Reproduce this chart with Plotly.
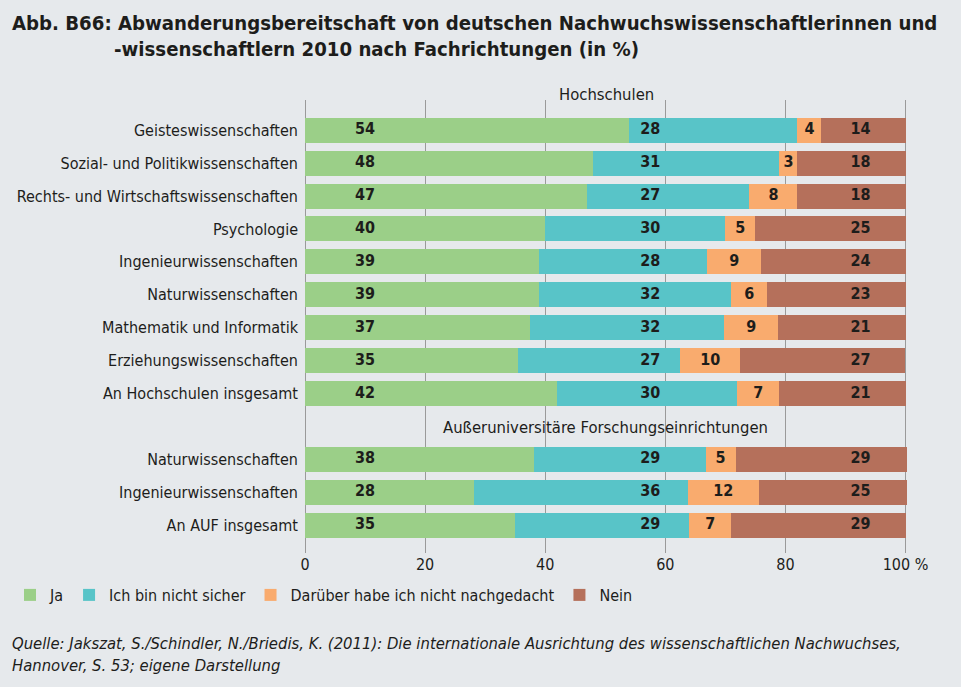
import plotly.graph_objects as go

# ---------------- data ----------------
hs_categories = [
    "Geisteswissenschaften",
    "Sozial- und Politikwissenschaften",
    "Rechts- und Wirtschaftswissenschaften",
    "Psychologie",
    "Ingenieurwissenschaften",
    "Naturwissenschaften",
    "Mathematik und Informatik",
    "Erziehungswissenschaften",
    "An Hochschulen insgesamt",
]
auf_categories = [
    "Naturwissenschaften",
    "Ingenieurwissenschaften",
    "An AUF insgesamt",
]
group_titles = ["Hochschulen", "Außeruniversitäre Forschungseinrichtungen"]

hs_ja = [54, 48, 47, 40, 39, 39, 37.4, 35.4, 42]
hs_unsicher = [28, 31, 27, 30, 28, 32, 32.4, 27.1, 30]
hs_nachgedacht = [4, 3, 8, 5, 9, 6, 9.0, 10.0, 7]
hs_nein = [14, 18, 18, 25, 24, 23, 21.2, 27.4, 21]

auf_ja = [38.1, 28.1, 35]
auf_unsicher = [28.6, 35.6, 29]
auf_nachgedacht = [5.0, 11.9, 7]
auf_nein = [28.6, 24.6, 29]

series_names = ["Ja", "Ich bin nicht sicher", "Darüber habe ich nicht nachgedacht", "Nein"]
x_tickvals = [0, 20, 40, 60, 80, 100]
x_ticktext = ["0", "20", "40", "60", "80", "100 %"]

title_line1 = "Abb. B66: Abwanderungsbereitschaft von deutschen Nachwuchswissenschaftlerinnen und"
title_line2 = "-wissenschaftlern 2010 nach Fachrichtungen (in %)"
source_line1 = "Quelle: Jakszat, S./Schindler, N./Briedis, K. (2011): Die internationale Ausrichtung des wissenschaftlichen Nachwuchses,"
source_line2 = "Hannover, S. 53; eigene Darstellung"

# ---------------- style ----------------
COLORS = ["#9bcf88", "#58c4c8", "#f9ab6e", "#b5705b"]
BG = "#e6e9ec"
GRID = "#9a9a9a"
TXT = "#1d1d1b"
FONT = "DejaVu Sans Condensed, Liberation Sans Narrow, Roboto, sans-serif"
LABEL_X = {"Ja": 10, "Ich bin nicht sicher": 57.5, "Nein": 92.5}

W, H = 961, 687
ML, MR, MT, MB = 305, 54, 100, 134
PW, PH = W - ML - MR, H - MT - MB

def px_x(px):
    return (px - ML) / PW

def px_y(py):
    return (H - MB - py) / PH

# ---------------- build ----------------
hs_keys = ["HS|" + c for c in hs_categories]
auf_keys = ["AUF|" + c for c in auf_categories]
header_keys = ["HEAD|" + g for g in group_titles]
cat_order = [header_keys[0]] + hs_keys + [header_keys[1]] + auf_keys
tick_text = [""] + hs_categories + [""] + auf_categories

keys = hs_keys + auf_keys
values = [
    hs_ja + auf_ja,
    hs_unsicher + auf_unsicher,
    hs_nachgedacht + auf_nachgedacht,
    hs_nein + auf_nein,
]

fig = go.Figure()
for name, vals, col in zip(series_names, values, COLORS):
    fig.add_trace(go.Bar(
        y=keys, x=vals, name=name, orientation="h",
        marker=dict(color=col, line=dict(width=0)),
        width=0.76, hoverinfo="x+y",
    ))

# value labels
cum_before = [a + b for a, b in zip(values[0], values[1])]
label_positions = [
    [LABEL_X["Ja"]] * len(keys),
    [LABEL_X["Ich bin nicht sicher"]] * len(keys),
    [c + v / 2 for c, v in zip(cum_before, values[2])],
    [LABEL_X["Nein"]] * len(keys),
]
for vals, xs in zip(values, label_positions):
    fig.add_trace(go.Scatter(
        y=keys, x=xs, mode="text",
        text=[f"<b>{v:.0f}</b>" for v in vals],
        textposition="middle center",
        textfont=dict(family=FONT, size=16, color=TXT),
        showlegend=False, hoverinfo="skip", cliponaxis=False,
    ))

annotations = [
    dict(x=0.5, y=px_y(95), xref="paper", yref="paper", text=group_titles[0], showarrow=False,
         xanchor="center", yanchor="middle", font=dict(family=FONT, size=16.5, color=TXT)),
    dict(x=50, y=header_keys[1], xref="x", yref="y", text=group_titles[1], showarrow=False,
         xanchor="center", yanchor="middle", font=dict(family=FONT, size=16.5, color=TXT), yshift=-1),
    dict(x=px_x(10), y=px_y(9), xref="paper", yref="paper", text="<b>" + title_line1 + "</b>",
         showarrow=False, xanchor="left", yanchor="top", font=dict(family=FONT, size=20.2, color=TXT)),
    dict(x=px_x(112), y=px_y(35), xref="paper", yref="paper", text="<b>" + title_line2 + "</b>",
         showarrow=False, xanchor="left", yanchor="top", font=dict(family=FONT, size=20.2, color=TXT)),
    dict(x=px_x(10), y=px_y(643), xref="paper", yref="paper", text="<i>" + source_line1 + "</i>",
         showarrow=False, xanchor="left", yanchor="middle", font=dict(family=FONT, size=16.5, color=TXT)),
    dict(x=px_x(10), y=px_y(665), xref="paper", yref="paper", text="<i>" + source_line2 + "</i>",
         showarrow=False, xanchor="left", yanchor="middle", font=dict(family=FONT, size=16.5, color=TXT)),
]

fig.update_layout(
    width=W, height=H,
    margin=dict(l=ML, r=MR, t=MT, b=MB, autoexpand=False),
    paper_bgcolor=BG, plot_bgcolor=BG,
    barmode="stack", bargap=0.24,
    font=dict(family=FONT, size=16, color=TXT),
    showlegend=True,
    legend=dict(
        orientation="h", x=px_x(10), y=px_y(595), xanchor="left", yanchor="middle",
        bgcolor="rgba(0,0,0,0)", font=dict(family=FONT, size=16, color=TXT),
        traceorder="normal",
    ),
    annotations=annotations,
    xaxis=dict(
        range=[0, 100.25], tickvals=x_tickvals, ticktext=x_ticktext,
        showgrid=True, gridcolor=GRID, gridwidth=1,
        zeroline=True, zerolinecolor=GRID, zerolinewidth=1,
        showline=False, ticks="", tickfont=dict(family=FONT, size=16, color=TXT),
        fixedrange=True,
    ),
    yaxis=dict(
        type="category", categoryorder="array", categoryarray=cat_order,
        range=[13.844, 0.083], tickmode="array", tickvals=cat_order, ticktext=tick_text,
        showgrid=False, zeroline=False, showline=False, ticks="",
        ticklabelstandoff=6, tickfont=dict(family=FONT, size=16, color=TXT),
        fixedrange=True,
    ),
)

fig.write_html("out.html", config={"displayModeBar": False},
               post_script="document.body.style.margin='0';")
